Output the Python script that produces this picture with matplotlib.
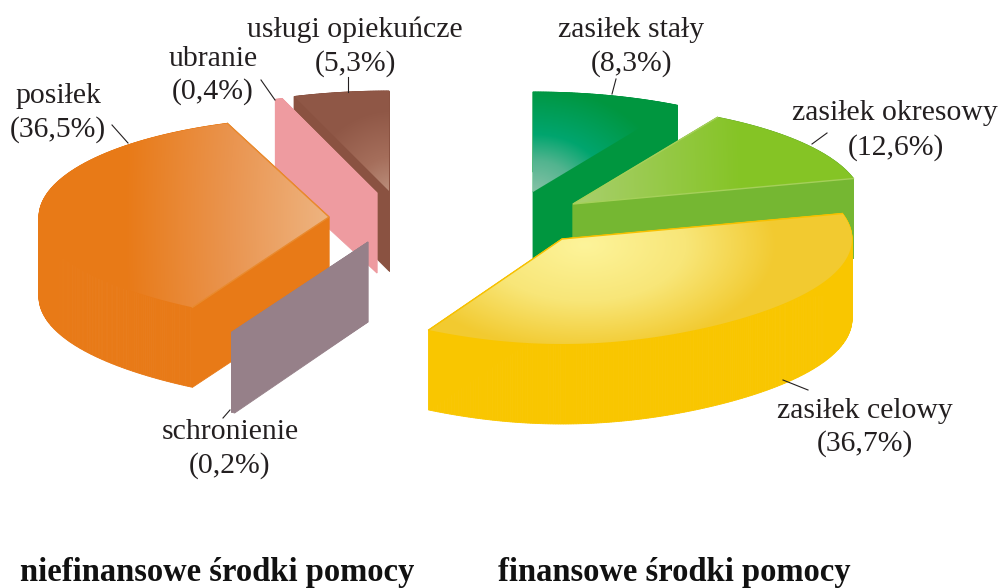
import numpy as np
import matplotlib
matplotlib.use("Agg")
import matplotlib.pyplot as plt
from matplotlib.colors import to_rgb
from matplotlib.patches import Polygon

# Data (percent shares, clockwise from 12 o'clock)
categories = ["zasiłek stały", "zasiłek okresowy", "zasiłek celowy",
              "schronienie", "posiłek", "ubranie", "usługi opiekuńcze"]
shares = [8.3, 12.6, 36.7, 0.2, 36.5, 0.4, 5.3]
share_labels = ["(8,3%)", "(12,6%)", "(36,7%)", "(0,2%)", "(36,5%)", "(0,4%)", "(5,3%)"]
group_titles = ["niefinansowe środki pomocy", "finansowe środki pomocy"]

# Style / layout (pixel coordinates of the picture)
RX, RY_BACK, RY_BULGE, DEPTH = 290, 100, 5, 80
style = {
    "zasiłek stały": dict(apex=(533, 192), side="#00963F", z=5, grad=((535, 192), 135, 105),
                          stops=[(0, "#86C2A6"), (.3, "#52B48F"), (.55, "#00A56E"), (1, "#00963F")]),
    "zasiłek okresowy": dict(apex=(573, 204), side="#75B732", z=6, grad=((573, 205), 170, 500),
                             stops=[(0, "#A9CF6E"), (1, "#85C425")], edge="#A5D05A"),
    "zasiłek celowy": dict(apex=(562, 239), side="#F9C600", z=7, grad=((585, 245), 225, 125),
                           stops=[(0, "#FDF49A"), (.45, "#F8E678"), (.85, "#F2CA30"), (1, "#F2CA30")], edge="#F7C000"),
    "schronienie": dict(apex=(368, 242), side="#968089", z=4, grad=((368, 242), 50, 50),
                        stops=[(0, "#968089"), (1, "#968089")]),
    "posiłek": dict(apex=(329, 217), side="#E87A17", z=3, grad=((335, 222), 210, 600),
                    stops=[(0, "#EEB684"), (.5, "#EA9550"), (1, "#E87A17")], edge="#E98A2E"),
    "ubranie": dict(apex=(377, 193), side="#EE9BA0", z=2, grad=((377, 193), 50, 50),
                    stops=[(0, "#EE9BA0"), (1, "#EE9BA0")]),
    "usługi opiekuńcze": dict(apex=(389, 191), side="#8A5241", z=1, grad=((392, 195), 85, 85),
                              stops=[(0, "#BE9380"), (.45, "#A56E5B"), (1, "#8F5746")]),
}
label_pos = {
    "zasiłek stały": ((631, 37), (632, 71)),
    "zasiłek okresowy": ((895, 120), (896, 155)),
    "zasiłek celowy": ((865, 418), (865, 451)),
    "schronienie": ((230, 439), (230, 473)),
    "posiłek": ((58, 103), (58, 137)),
    "ubranie": ((213, 66), (213, 99)),
    "usługi opiekuńcze": ((355, 37), (355, 71)),
}
leaders = {
    "zasiłek stały": ((616, 79), (612, 94)),
    "zasiłek okresowy": ((827, 133), (812, 144)),
    "zasiłek celowy": ((808, 390), (783, 380)),
    "schronienie": ((223, 418), (230, 410)),
    "posiłek": ((112, 125), (128, 143)),
    "ubranie": ((261, 80), (275, 100)),
    "usługi opiekuńcze": ((348, 77), (348, 92)),
}

W, H = 999, 588
fig = plt.figure(figsize=(W / 100, H / 100), dpi=100, facecolor="white")
ax = fig.add_axes([0, 0, 1, 1])
ax.set_xlim(0, W)
ax.set_ylim(H, 0)
ax.axis("off")

plt.rcParams["font.family"] = ["Liberation Serif", "DejaVu Serif"]
TEXT = "#231F20"

yy, xx = np.mgrid[0:H, 0:W] + 0.5


def rim(apex, t0, t1):
    t = np.radians(np.linspace(t0, t1, max(int(abs(t1 - t0) * 2), 2)))
    s = np.sin(t)
    x = apex[0] + RX * np.cos(t)
    ry = np.where(s > 0, RY_BACK, RY_BACK + RY_BULGE * np.abs(s) ** 6)
    return np.column_stack([x, apex[1] - ry * s])


def gradient_image(center, rx, ry, stops):
    r = np.clip(np.hypot((xx - center[0]) / rx, (yy - center[1]) / ry), 0, 1)
    pos = [p for p, _ in stops]
    cols = np.array([to_rgb(c) for _, c in stops])
    return np.dstack([np.interp(r, pos, cols[:, i]) for i in range(3)])


bounds = 90 - np.concatenate([[0], np.cumsum(shares)]) * 3.6
for i, name in enumerate(categories):
    st = style[name]
    z = st["z"] * 10
    apex = np.array(st["apex"], float)
    top = np.vstack([apex, rim(apex, bounds[i], bounds[i + 1])])
    # extruded walls
    closed = np.vstack([top, top[:1]])
    for a, b in zip(closed[:-1], closed[1:]):
        quad = [a, b, b + [0, DEPTH], a + [0, DEPTH]]
        ax.add_patch(Polygon(quad, closed=True, fc=st["side"], ec=st["side"], lw=0.6, zorder=z))
    # backing of the top face so that its clipped image has no gaps
    ax.add_patch(Polygon(top, closed=True, fc=st["side"], ec=st["side"], lw=0.6, zorder=z))
    # top face with shading
    clip = Polygon(top, closed=True, transform=ax.transData, fc="none", ec="none")
    ax.add_patch(clip)
    im = ax.imshow(gradient_image(*st["grad"], st["stops"]), extent=(0, W, H, 0),
                   aspect="auto", interpolation="bilinear", zorder=z + 1)
    im.set_clip_path(clip)
    if "edge" in st:
        ax.plot([top[1, 0], apex[0], top[-1, 0]], [top[1, 1], apex[1], top[-1, 1]],
                color=st["edge"], lw=1.0, zorder=z + 2, solid_joinstyle="miter")

    (x0, y0), (x1, y1) = leaders[name]
    ax.plot([x0, x1], [y0, y1], color=TEXT, lw=0.8, zorder=100)
    (lx, ly), (px, py) = label_pos[name]
    ax.text(lx, ly, name, ha="center", va="baseline", fontsize=21.4, color=TEXT, zorder=101)
    ax.text(px, py, share_labels[i], ha="center", va="baseline", fontsize=21.4, color=TEXT, zorder=101)

ax.set_xlim(0, W)
ax.set_ylim(H, 0)
ax.text(20, 581, group_titles[0], ha="left", va="baseline", fontsize=23.5, fontweight="bold", color="#111111")
ax.text(498, 581, group_titles[1], ha="left", va="baseline", fontsize=23.5, fontweight="bold", color="#111111")

fig.savefig("out.png", dpi=100, facecolor="white")
